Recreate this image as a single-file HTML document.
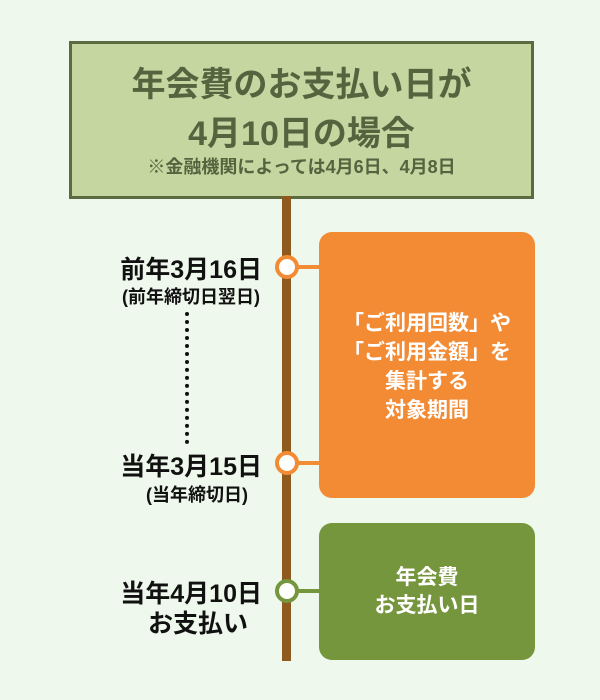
<!DOCTYPE html><html><head><meta charset="utf-8"><style>
body{margin:0;width:600px;height:700px;background:#eff8ec;position:relative;overflow:hidden;font-family:"Liberation Sans","Noto Sans CJK JP",sans-serif;font-weight:bold}
div{position:absolute}
.hd{left:69px;top:41px;width:459px;height:152px;background:#c5d6a0;border:3px solid #5a6b3f;color:#55633f;text-align:center}
.t{position:absolute;left:0;width:100%;white-space:nowrap}
.line{left:282px;top:196px;width:9px;height:465px;background:#8e5a1e}
.c{width:16px;height:16px;border-radius:50%;background:#fff;border:4px solid #f38b35;left:275px}
.ob{left:319px;top:232px;width:216px;height:266px;border-radius:13px;background:#f38b35;color:#fff;font-size:21px;line-height:29px;text-align:center;display:flex;align-items:center;justify-content:center;white-space:nowrap}
.gb{left:319px;top:523px;width:216px;height:137px;border-radius:13px;background:#76963e;color:#fff;font-size:21px;line-height:28px;text-align:center;display:flex;align-items:center;justify-content:center}
.lb{right:338px;text-align:right;color:#111;white-space:nowrap}
.cn{height:4px;left:295px;width:26px}
</style></head><body>
<div class="hd">
<div class="t" style="top:13px;font-size:34px">年会費のお支払い日が</div>
<div class="t" style="top:62px;font-size:34px">4月10日の場合</div>
<div class="t" style="top:109px;font-size:18px">※金融機関によっては4月6日、4月8日</div>
</div>
<div class="line"></div>
<div class="cn" style="top:265px;background:#f38b35"></div>
<div class="cn" style="top:461px;background:#f38b35"></div>
<div class="cn" style="top:589px;background:#76963e"></div>
<div class="c" style="top:255px"></div>
<div class="c" style="top:451px"></div>
<div class="c" style="top:579px;border-color:#76963e"></div>
<div class="ob"><div style="position:static;margin-top:4px">「ご利用回数」や<br>「ご利用金額」を<br>集計する<br>対象期間</div></div>
<div class="gb"><div style="position:static">年会費<br>お支払い日</div></div>
<div class="lb" style="top:250px;font-size:25px">前年3月16日</div>
<div class="lb" style="top:283px;font-size:18px;right:340px">(前年締切日翌日)</div>
<div style="left:185px;top:312px;height:132px;border-left:4px dotted #111"></div>
<div class="lb" style="top:447px;font-size:25px">当年3月15日</div>
<div class="lb" style="top:481px;font-size:18px;right:352px">(当年締切日)</div>
<div class="lb" style="top:574px;font-size:25px">当年4月10日</div>
<div class="lb" style="top:604px;font-size:25px;right:352px">お支払い</div>
</body></html>
